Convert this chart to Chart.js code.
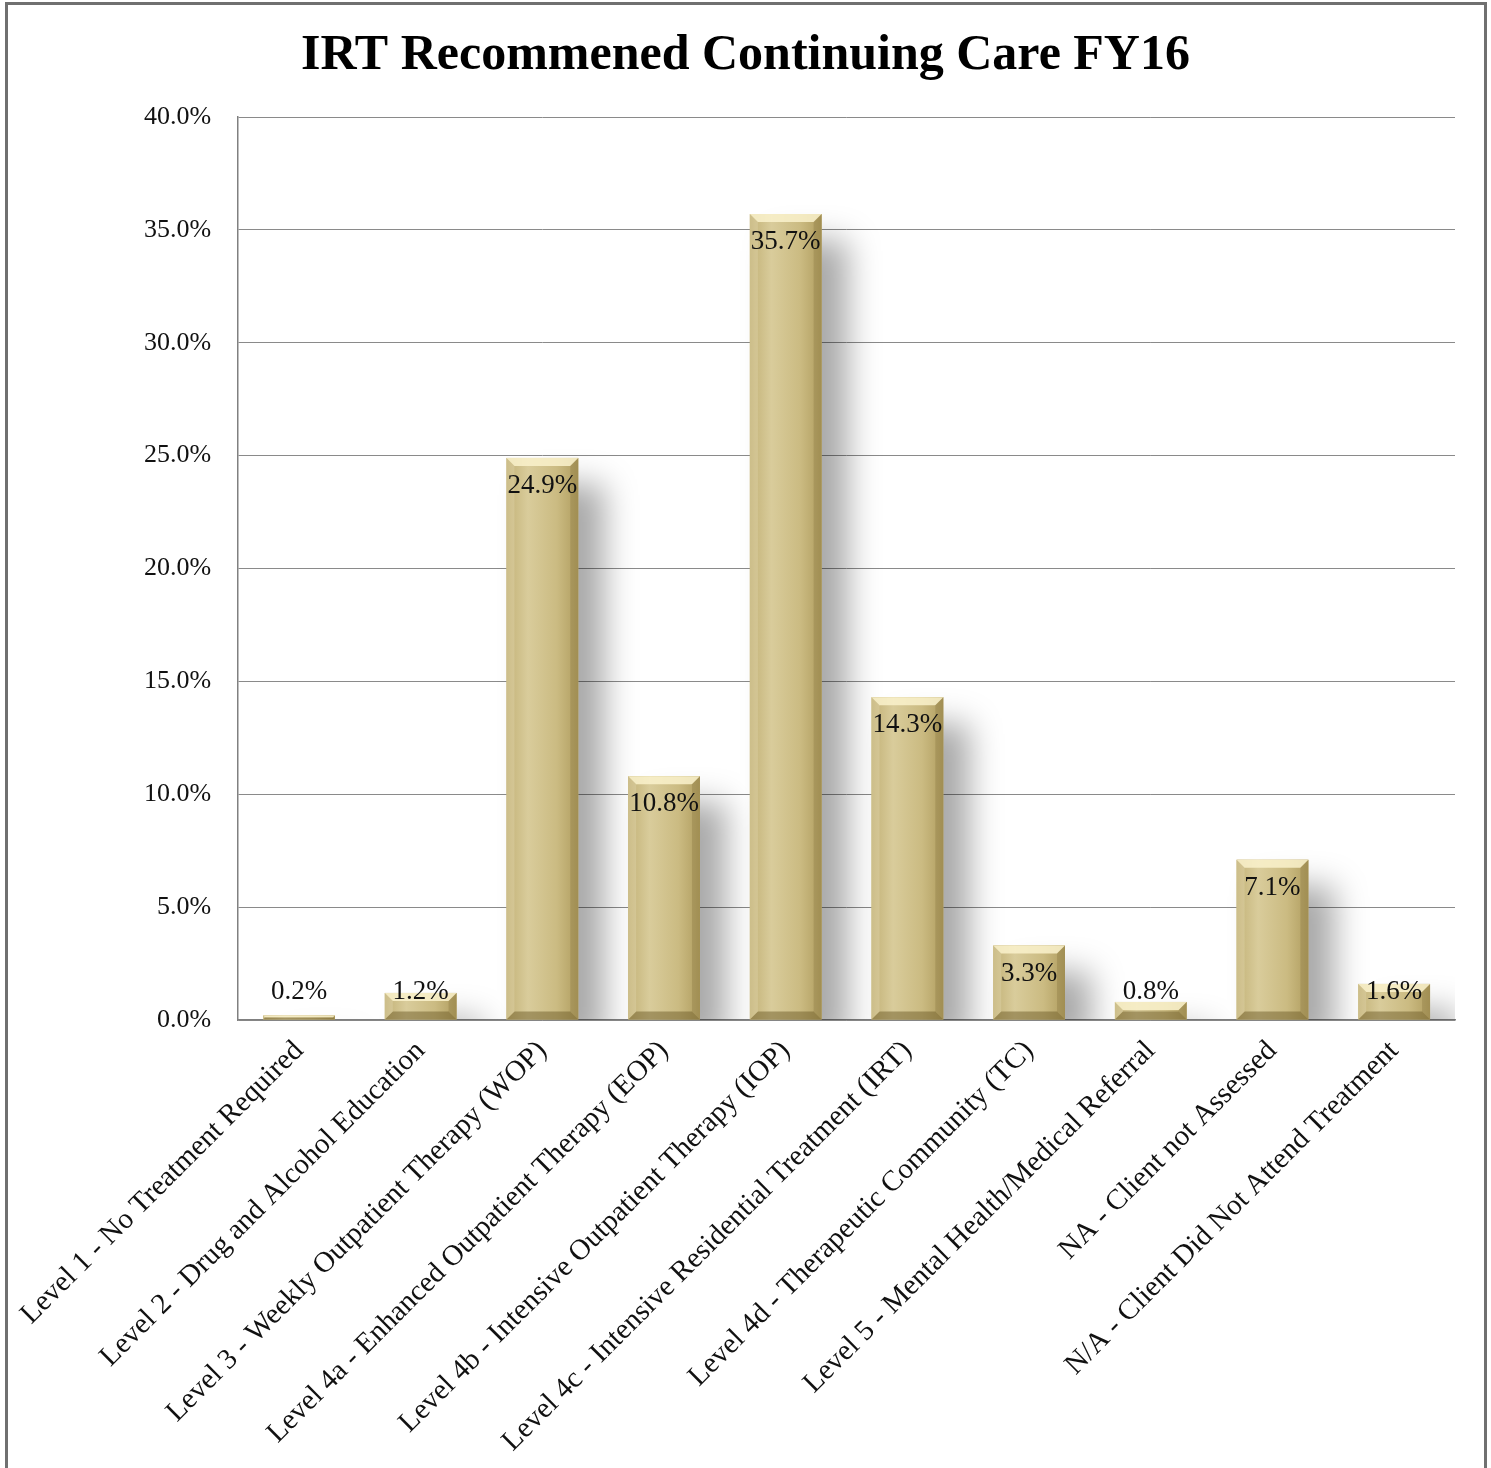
<!DOCTYPE html>
<html>
<head>
<meta charset="utf-8">
<script src="https://cdn.jsdelivr.net/npm/chart.js@4"></script>
<style>
  html, body { margin: 0; padding: 0; background: #fff; }
  #frame {
    position: absolute; left: 5px; top: 2px; width: 1476px; height: 1480px;
    border: 3px solid #707070; border-bottom: none;
  }
  #chart { position: absolute; left: 0; top: 0; }
</style>
</head>
<body>
<div id="frame"></div>
<canvas id="chart" width="1491" height="1468"></canvas>
<script>
// categories and values
const categories = [
  'Level 1 - No Treatment Required',
  'Level 2 - Drug and Alcohol Education',
  'Level 3 - Weekly Outpatient Therapy (WOP)',
  'Level 4a - Enhanced Outpatient Therapy (EOP)',
  'Level 4b - Intensive Outpatient Therapy (IOP)',
  'Level 4c - Intensive Residential Treatment (IRT)',
  'Level 4d - Therapeutic Community (TC)',
  'Level 5 - Mental Health/Medical Referral',
  'NA - Client not Assessed',
  'N/A - Client Did Not Attend Treatment'
];
const percents = [0.2, 1.2, 24.9, 10.8, 35.7, 14.3, 3.3, 0.8, 7.1, 1.6];
const yTicks = [0, 5, 10, 15, 20, 25, 30, 35, 40];

const serif = "'Liberation Serif', 'DejaVu Serif', serif";

// shadow while the bars draw, then gold gradient + bevel over each bar
const barLook = {
  id: 'barLook',
  beforeDatasetsDraw(chart) {
    const ctx = chart.ctx;
    ctx.save();
    ctx.shadowColor = 'rgba(0,0,0,0.34)';
    ctx.shadowBlur = 32;
    ctx.shadowOffsetX = 26;
    ctx.shadowOffsetY = 26;
  },
  afterDatasetsDraw(chart) {
    const ctx = chart.ctx;
    ctx.restore();
    chart.getDatasetMeta(0).data.forEach(bar => {
      const l = bar.x - bar.width / 2, r = bar.x + bar.width / 2;
      const t = bar.y, b = bar.base;
      const d = Math.min(8, (b - t) / 2);
      ctx.save();
      const g = ctx.createLinearGradient(l, 0, r, 0);
      g.addColorStop(0, '#c2b176');
      g.addColorStop(0.3, '#d9cc9b');
      g.addColorStop(0.7, '#cbbb82');
      g.addColorStop(1, '#b09d5f');
      ctx.fillStyle = g;
      ctx.fillRect(l, t, r - l, b - t);
      // top bevel
      ctx.fillStyle = 'rgba(250,242,205,0.85)';
      ctx.beginPath();
      ctx.moveTo(l, t); ctx.lineTo(r, t); ctx.lineTo(r - d, t + d); ctx.lineTo(l + d, t + d);
      ctx.closePath(); ctx.fill();
      // bottom bevel
      ctx.fillStyle = 'rgba(110,92,40,0.5)';
      ctx.beginPath();
      ctx.moveTo(l, b); ctx.lineTo(r, b); ctx.lineTo(r - d, b - d); ctx.lineTo(l + d, b - d);
      ctx.closePath(); ctx.fill();
      // right bevel
      ctx.fillStyle = 'rgba(110,92,40,0.22)';
      ctx.beginPath();
      ctx.moveTo(r, t); ctx.lineTo(r, b); ctx.lineTo(r - d, b - d); ctx.lineTo(r - d, t + d);
      ctx.closePath(); ctx.fill();
      // left bevel
      ctx.fillStyle = 'rgba(255,250,225,0.18)';
      ctx.beginPath();
      ctx.moveTo(l, t); ctx.lineTo(l, b); ctx.lineTo(l + d, b - d); ctx.lineTo(l + d, t + d);
      ctx.closePath(); ctx.fill();
      ctx.restore();
    });
  }
};

// value labels inside the bar top, kept above the axis for small bars
const valueLabels = {
  id: 'valueLabels',
  afterDatasetsDraw(chart) {
    const ctx = chart.ctx;
    ctx.save();
    ctx.font = '27px ' + serif;
    ctx.fillStyle = '#111';
    ctx.textAlign = 'center';
    ctx.textBaseline = 'middle';
    chart.getDatasetMeta(0).data.forEach((bar, i) => {
      const y = Math.min(bar.y + 28, bar.base - 28);
      ctx.fillText(percents[i].toFixed(1) + '%', bar.x, y);
    });
    ctx.restore();
  }
};

const config = {
  type: 'bar',
  data: {
    labels: categories,
    datasets: [{
      data: percents,
      backgroundColor: '#cbbb82',
      borderWidth: 0,
      categoryPercentage: 1,
      barPercentage: 0.59
    }]
  },
  options: {
    responsive: false,
    animation: false,
    layout: { padding: 0 },
    plugins: {
      legend: { display: false },
      tooltip: { enabled: false },
      title: {
        display: true,
        text: 'IRT Recommened Continuing Care FY16',
        color: '#000',
        font: { family: serif, size: 50, weight: 'bold' },
        padding: { top: 26, bottom: 31 }
      }
    },
    scales: {
      x: {
        grid: { display: false, drawTicks: false },
        border: { display: true, color: '#808080', width: 1.5 },
        ticks: {
          color: '#111',
          font: { family: serif, size: 29 },
          maxRotation: 45,
          minRotation: 45,
          padding: 14,
          autoSkip: false
        },
        afterFit(scale) { scale.height = 448; }
      },
      y: {
        min: 0,
        max: 40,
        afterBuildTicks(scale) { scale.ticks = yTicks.map(v => ({ value: v })); },
        grid: { color: '#8a8a8a', lineWidth: 1, drawTicks: false },
        border: { display: true, color: '#808080', width: 1.5 },
        ticks: {
          color: '#111',
          font: { family: serif, size: 26 },
          padding: 27,
          callback: v => v.toFixed(1) + '%'
        },
        afterFit(scale) { scale.width = 237; }
      },
      // empty right-hand axis, only to leave the margin beside the plot
      yRight: {
        position: 'right',
        min: 0,
        max: 40,
        grid: { display: false, drawTicks: false },
        border: { display: false },
        ticks: { display: false },
        afterFit(scale) { scale.width = 36; }
      }
    }
  },
  plugins: [barLook, valueLabels]
};

window.addEventListener('load', () => {
  new Chart(document.getElementById('chart'), config);
});
</script>
</body>
</html>
